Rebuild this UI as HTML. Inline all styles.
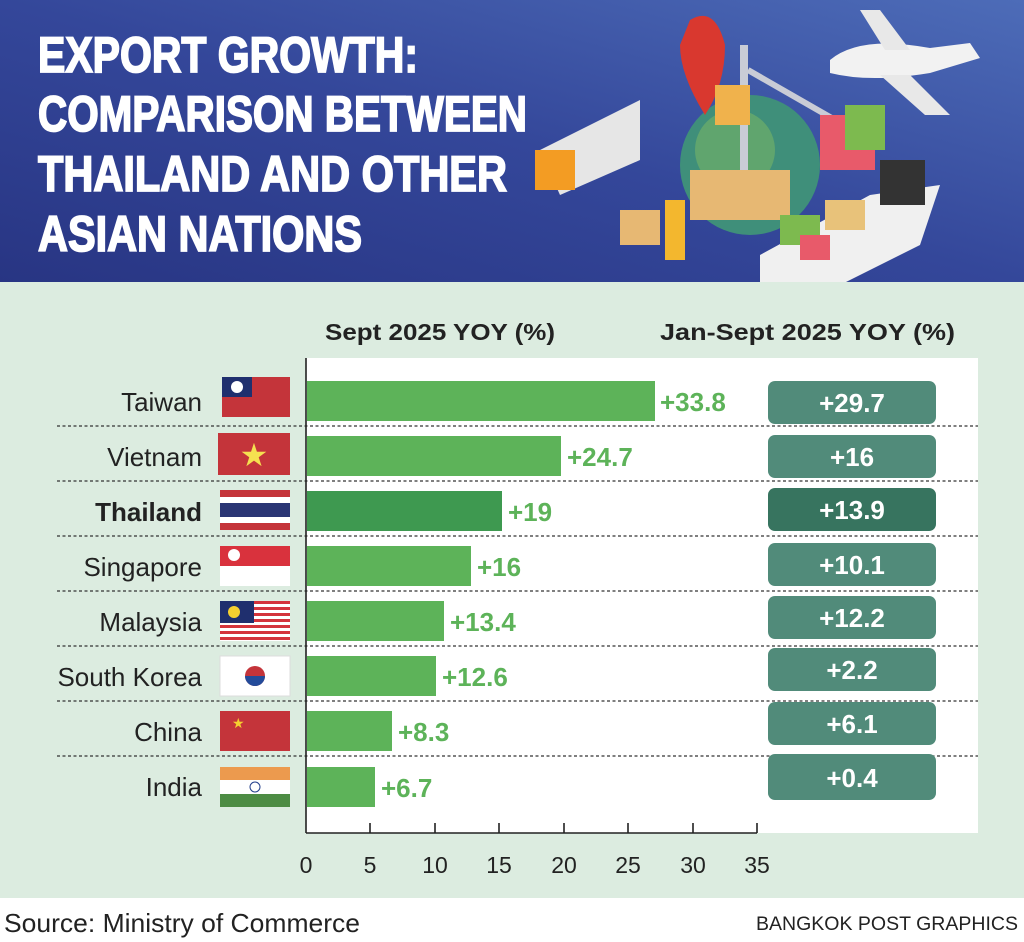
<!DOCTYPE html>
<html><head><meta charset="utf-8"><style>
html,body{margin:0;padding:0;width:1024px;height:942px;overflow:hidden;background:#fff}
svg{display:block}
text{font-family:"Liberation Sans",sans-serif}
</style></head><body>
<svg width="1024" height="942" viewBox="0 0 1024 942" xmlns="http://www.w3.org/2000/svg">
<defs>
<linearGradient id="hg" x1="0" y1="1" x2="1" y2="0">
<stop offset="0" stop-color="#283583"/><stop offset="0.5" stop-color="#34479a"/><stop offset="1" stop-color="#4d6cb8"/>
</linearGradient>
</defs>
<rect x="0" y="0" width="1024" height="282" fill="url(#hg)"/>
<g fill="#fff" stroke="#fff" stroke-width="1.8" font-weight="bold" font-size="50">
<text x="38" y="72" textLength="380" lengthAdjust="spacingAndGlyphs">EXPORT GROWTH:</text>
<text x="38" y="131" textLength="489" lengthAdjust="spacingAndGlyphs">COMPARISON BETWEEN</text>
<text x="38" y="191" textLength="469" lengthAdjust="spacingAndGlyphs">THAILAND AND OTHER</text>
<text x="38" y="251" textLength="324" lengthAdjust="spacingAndGlyphs">ASIAN NATIONS</text>
</g>
<!-- illustration -->
<circle cx="750" cy="165" r="70" fill="#3f8f7a"/>
<circle cx="735" cy="150" r="40" fill="#6fae6a" opacity="0.7"/>
<path d="M690 20 q25 -15 35 25 q0 40 -20 70 q-25 -40 -25 -70z" fill="#d9382f"/>
<rect x="740" y="45" width="8" height="160" fill="#c9ccd6"/>
<path d="M748 70 L870 140" stroke="#c9ccd6" stroke-width="6"/>
<rect x="715" y="85" width="35" height="40" fill="#f0b24c"/>
<path d="M540 150 L640 100 L640 160 L560 195z" fill="#e6e6e6"/>
<rect x="535" y="150" width="40" height="40" fill="#f39c23"/>
<rect x="820" y="115" width="55" height="55" fill="#e85a6a"/>
<rect x="845" y="105" width="40" height="45" fill="#7dba4f"/>
<rect x="690" y="170" width="100" height="50" fill="#e7b873"/>
<rect x="620" y="210" width="40" height="35" fill="#e7b873"/>
<rect x="665" y="200" width="20" height="60" fill="#f3b72e"/>
<path d="M830 60 q30 -25 100 -12 l40 -5 l10 15 l-50 15 q-60 10 -100 0z" fill="#f2f2f2"/>
<path d="M860 10 l20 0 l30 40 l-25 0z M880 75 l30 0 l40 40 l-25 0z" fill="#e8e8e8"/>
<path d="M760 255 l110 -60 l70 -10 l-20 60 l-110 55 l-50 0z" fill="#f0f0f0"/>
<rect x="880" y="160" width="45" height="45" fill="#333"/>
<rect x="780" y="215" width="40" height="30" fill="#7dba4f"/>
<rect x="825" y="200" width="40" height="30" fill="#e8c27a"/>
<rect x="800" y="235" width="30" height="25" fill="#e85a6a"/>
<!-- lower panel -->
<rect x="0" y="282" width="1024" height="616" fill="#dcece0"/>
<rect x="306" y="358" width="672" height="475" fill="#fff"/>
<g font-weight="bold" font-size="23" fill="#222">
<text x="325" y="340" textLength="230" lengthAdjust="spacingAndGlyphs">Sept 2025 YOY (%)</text>
<text x="660" y="340" textLength="295" lengthAdjust="spacingAndGlyphs">Jan-Sept 2025 YOY (%)</text>
</g>
<!-- dashed separators -->
<g stroke="#333" stroke-width="1.3" stroke-dasharray="3,2.5">
<line x1="57" y1="426" x2="978" y2="426"/><line x1="57" y1="481" x2="978" y2="481"/>
<line x1="57" y1="536" x2="978" y2="536"/><line x1="57" y1="591" x2="978" y2="591"/>
<line x1="57" y1="646" x2="978" y2="646"/><line x1="57" y1="701" x2="978" y2="701"/>
<line x1="57" y1="756" x2="978" y2="756"/>
</g>
<!-- bars -->
<g fill="#5db359">
<rect x="307" y="381" width="348" height="40"/>
<rect x="307" y="436" width="254" height="40"/>
<rect x="307" y="546" width="164" height="40"/>
<rect x="307" y="601" width="137" height="40"/>
<rect x="307" y="656" width="129" height="40"/>
<rect x="307" y="711" width="85" height="40"/>
<rect x="307" y="767" width="68" height="40"/>
</g>
<rect x="307" y="491" width="195" height="40" fill="#3e9950"/>
<g font-weight="bold" font-size="26" fill="#5db359">
<text x="660" y="411">+33.8</text><text x="567" y="466">+24.7</text>
<text x="508" y="521">+19</text><text x="477" y="576">+16</text>
<text x="450" y="631">+13.4</text><text x="442" y="686">+12.6</text>
<text x="398" y="741">+8.3</text><text x="381" y="797">+6.7</text>
</g>
<!-- right boxes -->
<g fill="#518b7a">
<rect x="768" y="381" width="168" height="43" rx="7"/>
<rect x="768" y="435" width="168" height="43" rx="7"/>
<rect x="768" y="543" width="168" height="43" rx="7"/>
<rect x="768" y="596" width="168" height="43" rx="7"/>
<rect x="768" y="648" width="168" height="43" rx="7"/>
<rect x="768" y="702" width="168" height="43" rx="7"/>
<rect x="768" y="754" width="168" height="46" rx="7"/>
</g>
<rect x="768" y="488" width="168" height="43" rx="7" fill="#37745f"/>
<g font-weight="bold" font-size="26" fill="#fff" text-anchor="middle">
<text x="852" y="412">+29.7</text><text x="852" y="466">+16</text>
<text x="852" y="519">+13.9</text><text x="852" y="574">+10.1</text>
<text x="852" y="627">+12.2</text><text x="852" y="679">+2.2</text>
<text x="852" y="733">+6.1</text><text x="852" y="787">+0.4</text>
</g>
<!-- country labels -->
<g font-size="26" fill="#222" text-anchor="end">
<text x="202" y="411">Taiwan</text><text x="202" y="466">Vietnam</text>
<text x="202" y="521" font-weight="bold">Thailand</text><text x="202" y="576">Singapore</text>
<text x="202" y="631">Malaysia</text><text x="202" y="686">South Korea</text>
<text x="202" y="741">China</text><text x="202" y="796">India</text>
</g>
<!-- flags -->
<rect x="222" y="377" width="68" height="40" fill="#c4343a"/><rect x="222" y="377" width="30" height="20" fill="#1f2f6e"/><circle cx="237" cy="387" r="6" fill="#fff"/>
<rect x="218" y="433" width="72" height="42" fill="#c4343a"/><text x="254" y="466" font-size="32" fill="#f5e050" text-anchor="middle">★</text>
<rect x="220" y="490" width="70" height="40" fill="#c4343a"/><rect x="220" y="497" width="70" height="26" fill="#fff"/><rect x="220" y="503" width="70" height="14" fill="#2a3574"/>
<rect x="220" y="546" width="70" height="40" fill="#fff"/><rect x="220" y="546" width="70" height="20" fill="#d9323d"/><circle cx="234" cy="555" r="6" fill="#fff"/>
<rect x="220" y="601" width="70" height="40" fill="#fff"/>
<g fill="#d4343c"><rect x="220" y="601" width="70" height="3"/><rect x="220" y="607" width="70" height="3"/><rect x="220" y="613" width="70" height="3"/><rect x="220" y="619" width="70" height="3"/><rect x="220" y="625" width="70" height="3"/><rect x="220" y="631" width="70" height="3"/><rect x="220" y="637" width="70" height="3"/></g>
<rect x="220" y="601" width="34" height="22" fill="#1f2f6e"/><circle cx="234" cy="612" r="6" fill="#f5d030"/>
<rect x="220" y="656" width="70" height="40" fill="#fff" stroke="#ddd"/><circle cx="255" cy="676" r="10" fill="#c4343a"/><path d="M245 676 a10 10 0 0 0 20 0z" fill="#234b9a"/>
<rect x="220" y="711" width="70" height="40" fill="#c4343a"/><text x="232" y="728" font-size="14" fill="#f5d030">★</text>
<rect x="220" y="767" width="70" height="13" fill="#ec9a4e"/><rect x="220" y="780" width="70" height="14" fill="#fff"/><rect x="220" y="794" width="70" height="13" fill="#4d8c44"/><circle cx="255" cy="787" r="5" fill="none" stroke="#233f8c"/>
<!-- axis -->
<g stroke="#222" stroke-width="1.6">
<line x1="306" y1="358" x2="306" y2="833"/><line x1="306" y1="833" x2="757" y2="833"/>
<line x1="370" y1="823" x2="370" y2="833"/><line x1="435" y1="823" x2="435" y2="833"/>
<line x1="499" y1="823" x2="499" y2="833"/><line x1="564" y1="823" x2="564" y2="833"/>
<line x1="628" y1="823" x2="628" y2="833"/><line x1="693" y1="823" x2="693" y2="833"/>
<line x1="757" y1="823" x2="757" y2="833"/>
</g>
<g font-size="23" fill="#222" text-anchor="middle">
<text x="306" y="873">0</text><text x="370" y="873">5</text><text x="435" y="873">10</text><text x="499" y="873">15</text>
<text x="564" y="873">20</text><text x="628" y="873">25</text><text x="693" y="873">30</text><text x="757" y="873">35</text>
</g>
<text x="4" y="932" font-size="26" fill="#222" textLength="356" lengthAdjust="spacingAndGlyphs">Source: Ministry of Commerce</text>
<text x="1018" y="930" font-size="19" fill="#222" text-anchor="end" textLength="262" lengthAdjust="spacingAndGlyphs">BANGKOK POST GRAPHICS</text>
</svg>
</body></html>
